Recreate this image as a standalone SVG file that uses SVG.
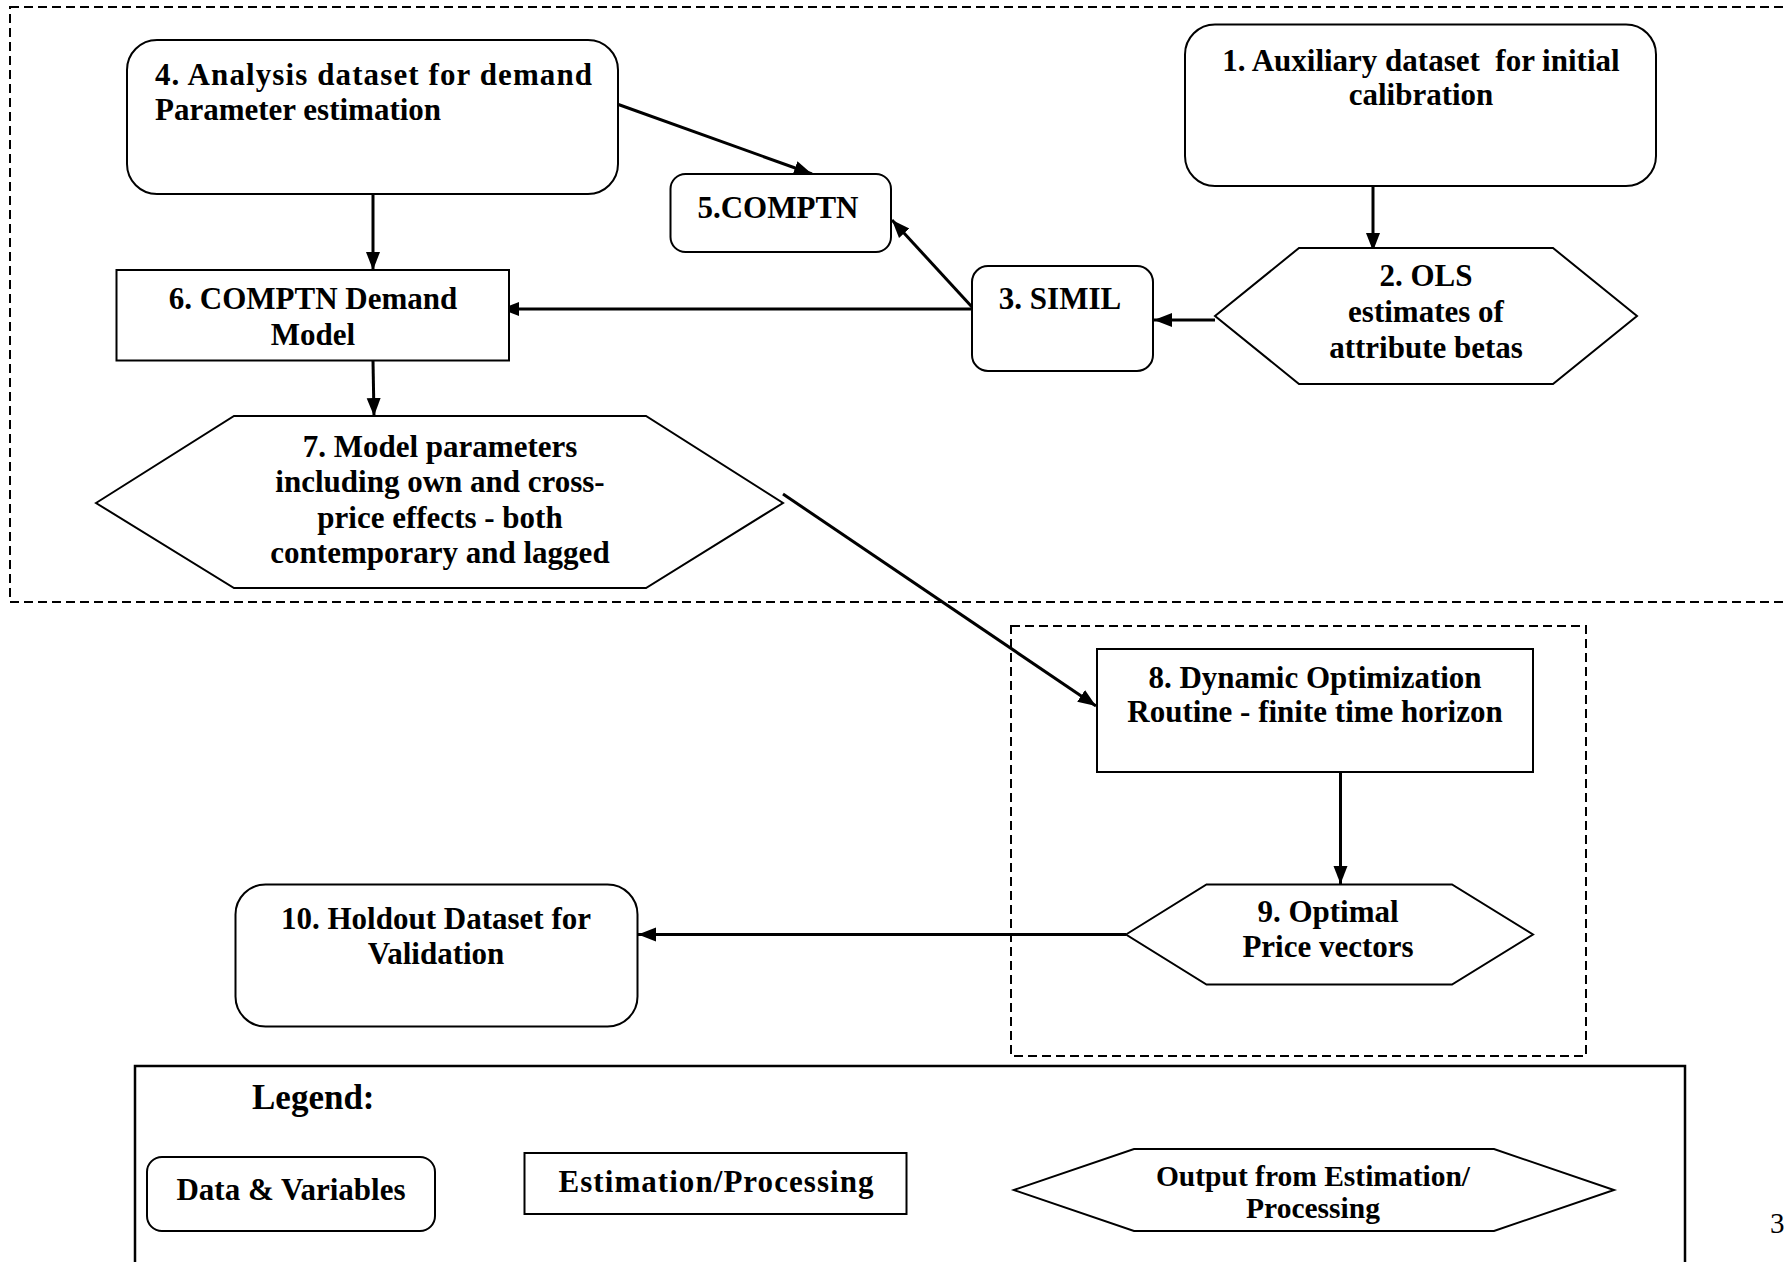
<svg xmlns="http://www.w3.org/2000/svg" width="1786" height="1262" viewBox="0 0 1786 1262">
<style>
  .t { font-family: "Liberation Serif", "Times New Roman", serif; font-weight: bold; font-size: 31px; fill: #000; }
  .m { text-anchor: middle; }
  .box { fill: #fff; stroke: #000; stroke-width: 2; }
  .dash { fill: none; stroke: #000; stroke-width: 2; stroke-dasharray: 9 5; }
  .conn { fill: none; stroke: #000; stroke-width: 3; marker-end: url(#ah); }
</style>
<defs>
  <marker id="ah" markerUnits="userSpaceOnUse" markerWidth="20" markerHeight="16" refX="18" refY="8" orient="auto">
    <path d="M0,1 L18,8 L0,15 z" fill="#000"/>
  </marker>
  <clipPath id="legclip"><rect x="1000" y="1140" width="640" height="86"/></clipPath>
</defs>
<rect width="1786" height="1262" fill="#fff"/>

<g id="groups">
  <rect id="outer-dashed" class="dash" x="10" y="7" width="1800" height="595"/>
  <rect id="inner-dashed" class="dash" x="1011" y="626" width="575" height="430"/>
</g>

<g id="connectors">
  <line class="conn" x1="617" y1="104" x2="812" y2="174"/>
  <line class="conn" x1="373" y1="194" x2="373" y2="270"/>
  <line class="conn" x1="373" y1="361" x2="374" y2="416"/>
  <line class="conn" x1="972" y1="307" x2="892" y2="220"/>
  <line class="conn" x1="972" y1="309" x2="501" y2="309"/>
  <line class="conn" x1="1215" y1="320" x2="1154" y2="320"/>
  <line class="conn" x1="1373" y1="186" x2="1373" y2="251"/>
  <line class="conn" x1="783" y1="494" x2="1096" y2="706"/>
  <line class="conn" x1="1340.5" y1="772" x2="1340.5" y2="884"/>
  <line class="conn" x1="1126" y1="934.5" x2="638" y2="934.5"/>
</g>

<g id="node1">
  <rect class="box" x="1185" y="24.5" width="471" height="161.5" rx="30" ry="30"/>
  <text class="t m" x="1421" y="71">1. Auxiliary dataset&#160; for initial</text>
  <text class="t m" x="1421" y="105">calibration</text>
</g>

<g id="node2">
  <polygon class="box" points="1215,316 1299,248 1553,248 1637,316 1553,384 1299,384"/>
  <text class="t m" x="1426" y="286">2. OLS</text>
  <text class="t m" x="1426" y="322">estimates of</text>
  <text class="t m" x="1426" y="358">attribute betas</text>
</g>

<g id="node3">
  <rect class="box" x="972" y="266" width="181" height="105" rx="16" ry="16"/>
  <text class="t m" x="1060" y="309">3. SIMIL</text>
</g>

<g id="node4">
  <rect class="box" x="127" y="40" width="491" height="154" rx="30" ry="30"/>
  <text class="t" x="155" y="85" textLength="437" lengthAdjust="spacing">4. Analysis dataset for demand</text>
  <text class="t" x="155" y="120">Parameter estimation</text>
</g>

<g id="node5">
  <rect class="box" x="670.5" y="174" width="220.5" height="78" rx="15" ry="15"/>
  <text class="t m" x="778" y="217.5">5.COMPTN</text>
</g>

<g id="node6">
  <rect class="box" x="116.5" y="270" width="392.5" height="90.5"/>
  <text class="t m" x="313" y="309">6. COMPTN Demand</text>
  <text class="t m" x="313" y="345">Model</text>
</g>

<g id="node7">
  <polygon class="box" points="96,503 234,416 646,416 783,503 646,588 234,588"/>
  <text class="t m" x="440" y="457">7. Model parameters</text>
  <text class="t m" x="440" y="492">including own and cross-</text>
  <text class="t m" x="440" y="528">price effects - both</text>
  <text class="t m" x="440" y="563">contemporary and lagged</text>
</g>

<g id="node8">
  <rect class="box" x="1097" y="649" width="436" height="123"/>
  <text class="t m" x="1315" y="688">8. Dynamic Optimization</text>
  <text class="t m" x="1315" y="722">Routine - finite time horizon</text>
</g>

<g id="node9">
  <polygon class="box" points="1126,934.5 1206.5,884.5 1452,884.5 1533,934.5 1452,984.5 1206.5,984.5"/>
  <text class="t m" x="1328" y="922">9. Optimal</text>
  <text class="t m" x="1328" y="957">Price vectors</text>
</g>

<g id="node10">
  <rect class="box" x="235.5" y="884.5" width="402" height="142" rx="30" ry="30"/>
  <text class="t m" x="436" y="929">10. Holdout Dataset for</text>
  <text class="t m" x="436" y="964">Validation</text>
</g>

<g id="legend">
  <rect x="135" y="1066" width="1550" height="260" fill="none" stroke="#000" stroke-width="2.5"/>
  <text class="t" x="252" y="1109" style="font-size:35px">Legend:</text>
  <rect class="box" x="147" y="1157" width="288" height="74" rx="15" ry="15"/>
  <text class="t m" x="291" y="1200">Data &amp; Variables</text>
  <rect class="box" x="524.5" y="1153" width="382" height="61"/>
  <text class="t m" x="716" y="1192" textLength="315" lengthAdjust="spacing">Estimation/Processing</text>
  <polygon class="box" points="1014,1190 1134,1149 1494,1149 1614,1190 1494,1231 1134,1231"/>
  <g clip-path="url(#legclip)">
    <text class="t m" x="1313" y="1186" style="font-size:29.5px">Output from Estimation/</text>
    <text class="t m" x="1313" y="1218" style="font-size:29.5px">Processing</text>
  </g>
</g>

<text x="1770" y="1233" style="font-family:'Liberation Serif','Times New Roman',serif;font-size:29px">3</text>
</svg>
